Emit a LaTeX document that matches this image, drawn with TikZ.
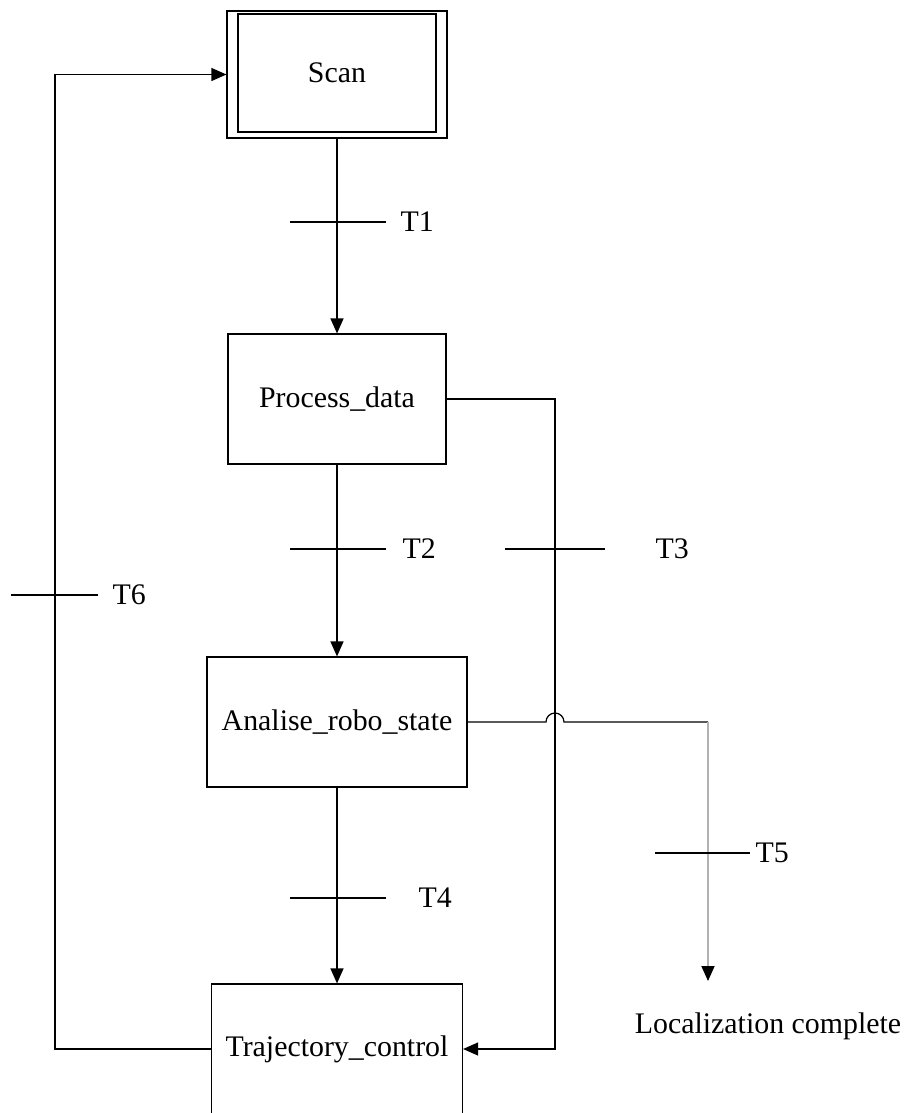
\documentclass[tikz,border=0pt]{standalone}
\usepackage{fontspec}
\setmainfont{Liberation Serif}
\usetikzlibrary{arrows.meta}

\begin{document}
\begin{tikzpicture}[x=0.02cm, y=-0.02cm, line width=0.7pt,
      >={Triangle[length=3mm,width=2.6mm]},
      every node/.style={font=\fontsize{17}{20}\selectfont},
      state/.style={draw, minimum height=2.6cm, inner sep=0pt},
      hop/.style={gray!60, line width=1pt},]
    \useasboundingbox (0,0) rectangle (906,1113);
    % steps of the chart
    \node[state, minimum width=4.4cm, minimum height=2.54cm] (scan) at (337,74.5) {};
    \node[state, minimum width=3.96cm, minimum height=2.36cm] (scanin) at (337,73) {Scan};
    \node[state, minimum width=4.36cm] (process) at (337,399) {Process\_data};
    \node[state, minimum width=5.2cm] (analise) at (337,722) {Analise\_robo\_state};
    \node[state, minimum width=5.02cm] (traj) at (337,1049) {Trajectory\_control};
    \node (done) at (768,1026) {Localization complete};
    \coordinate (pr) at (555,399);
    \coordinate (back) at (55,74.5);
    \coordinate (corner) at (708,722);
    \coordinate (end) at (708,981);

    % links
    \draw[->] (scan.south) -- (process.north);
    \draw[->] (process.south) -- (analise.north);
    \draw[->] (analise.south) -- (traj.north);
    \draw[->] (process.east) -- (pr) |- (traj.east);
    \draw[->] (traj.west) -| (back) -- (scan.west);
    \draw (analise.east) -- (546,722) arc[start angle=180, end angle=360, radius=9] -- (corner);
    \draw[hop, -{Triangle[length=3mm,width=2.6mm,color=black]}] (corner) -- (end);

    % transitions
    \foreach \xa/\xb/\y/\lx/\t in {290/386/222/400/T1, 290/386/549/402/T2,
        505/605/549/655/T3, 11/98/595/112/T6, 290/386/898/418/T4, 655/750/853/755/T5}
      {
        \draw (\xa,\y) -- (\xb,\y);
        \node[anchor=west, inner sep=0pt] (\t) at (\lx,\y) {\t};
      }
\end{tikzpicture}
\end{document}
